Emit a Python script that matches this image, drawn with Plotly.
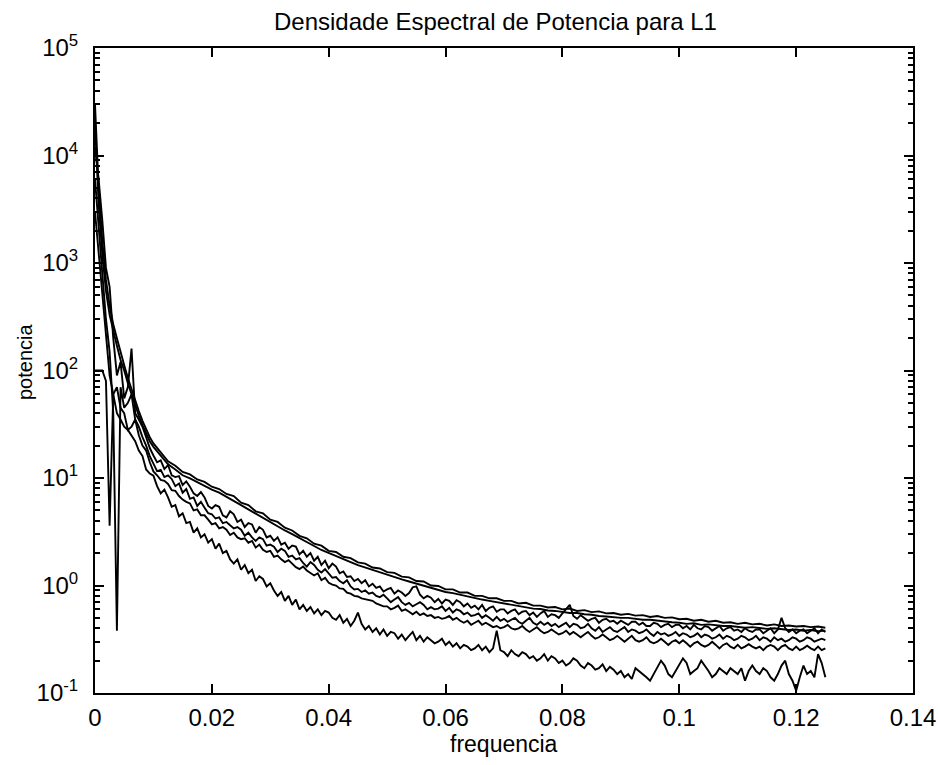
import plotly.graph_objects as go

# frequency grids
freq_smooth = [round(i * 0.000625, 6) for i in range(16)] + [round(0.01 + i * 0.00125, 6) for i in range(93)]
freq_noisy = [round(i * 0.000625, 6) for i in range(201)]

curve_a1 = [30000, 5000, 1600, 700, 400, 270, 200, 145, 112, 85, 66, 52, 42, 34, 28, 24,
            21, 17.3, 14.3, 13.0, 11.4, 10.8, 9.7, 9.2,
            8.3, 7.9, 7.1, 6.8, 5.9, 5.6, 4.9, 4.7,
            4.1, 3.9, 3.45, 3.25, 2.9, 2.75, 2.45, 2.35,
            2.1, 2.05, 1.85, 1.8, 1.64, 1.6, 1.47, 1.44,
            1.33, 1.31, 1.21, 1.19, 1.1, 1.09, 1.0, 0.99,
            0.92, 0.92, 0.86, 0.86, 0.8, 0.8, 0.76, 0.76,
            0.72, 0.72, 0.68, 0.69, 0.65, 0.65, 0.625, 0.63,
            0.6, 0.61, 0.58, 0.59, 0.565, 0.575, 0.55, 0.555,
            0.535, 0.545, 0.525, 0.53, 0.51, 0.52, 0.5, 0.505,
            0.485, 0.49, 0.47, 0.48, 0.46, 0.47, 0.45, 0.455,
            0.44, 0.45, 0.435, 0.44, 0.425, 0.435, 0.42, 0.425,
            0.415, 0.42, 0.41, 0.415, 0.405]

curve_a2 = [20000, 3500, 1200, 550, 330, 230, 170, 125, 100, 76, 60, 47, 38, 31, 26, 22,
            19.5, 16, 13.4, 12, 10.6, 9.9, 9.1, 8.4,
            7.8, 7.3, 6.7, 6.2, 5.6, 5.1, 4.65, 4.3,
            3.9, 3.55, 3.25, 3.0, 2.75, 2.5, 2.33, 2.14,
            2.0, 1.86, 1.75, 1.65, 1.55, 1.47, 1.4, 1.32,
            1.26, 1.2, 1.14, 1.09, 1.04, 1.0, 0.95, 0.91,
            0.87, 0.85, 0.82, 0.79, 0.76, 0.74, 0.72, 0.70,
            0.68, 0.66, 0.645, 0.625, 0.61, 0.605, 0.585, 0.58,
            0.57, 0.555, 0.555, 0.54, 0.535, 0.52, 0.515, 0.505,
            0.5, 0.5, 0.49, 0.48, 0.48, 0.47, 0.465, 0.455,
            0.45, 0.44, 0.445, 0.43, 0.435, 0.425, 0.42, 0.42,
            0.41, 0.405, 0.41, 0.40, 0.395, 0.4, 0.39, 0.385,
            0.39, 0.38, 0.385, 0.375, 0.38]

curve_b = [12000, 6000, 2500, 900, 600, 200, 90, 120, 55, 70, 160, 40, 35, 30, 24, 19,
           16.2, 14.0, 14.6, 12.1, 13.2, 10.6, 10.2, 10.4,
           8.6, 9.3, 8.3, 7.2, 6.8, 7.4, 6.6, 5.5,
           5.2, 5.6, 5.4, 4.5, 4.3, 4.9, 4.6, 3.9,
           4.1, 3.5, 3.8, 3.7, 3.1, 3.5, 3.3, 2.8,
           2.9, 2.6, 2.8, 2.4, 2.5, 2.2, 2.35, 2.3,
           1.95, 2.1, 1.85, 2.0, 1.7, 1.85, 1.55, 1.7,
           1.45, 1.6, 1.5, 1.3, 1.35, 1.2, 1.22, 1.1,
           1.15, 1.05, 1.12, 0.98, 1.04, 0.95, 0.98, 0.88,
           0.92, 0.95, 0.84, 0.9, 0.86, 0.8, 0.85, 0.96,
           0.98, 0.82, 0.76, 0.8, 0.77, 0.7, 0.75, 0.68,
           0.74, 0.72, 0.66, 0.73, 0.7, 0.64, 0.68, 0.62,
           0.65, 0.6, 0.66, 0.58, 0.62, 0.64, 0.57, 0.6,
           0.6, 0.55, 0.58, 0.6, 0.54, 0.57, 0.58, 0.53,
           0.56, 0.51, 0.55, 0.58, 0.51, 0.54, 0.53, 0.5,
           0.55, 0.6, 0.66, 0.52, 0.49, 0.53, 0.5, 0.47,
           0.49, 0.5, 0.45, 0.48, 0.49, 0.46, 0.47, 0.44,
           0.47, 0.45, 0.43, 0.46, 0.46, 0.43, 0.45, 0.42,
           0.42, 0.45, 0.44, 0.41, 0.43, 0.44, 0.41, 0.43,
           0.43, 0.4, 0.42, 0.39, 0.43, 0.4, 0.39, 0.42,
           0.41, 0.38, 0.4, 0.42, 0.38, 0.4, 0.41, 0.38,
           0.39, 0.37, 0.4, 0.38, 0.37, 0.39, 0.39, 0.36,
           0.38, 0.4, 0.36, 0.39, 0.5, 0.4, 0.37, 0.39,
           0.36, 0.38, 0.39, 0.36, 0.38, 0.4, 0.36, 0.39,
           0.37]

curve_c = [6000, 2000, 800, 300, 150, 40, 0.38, 70, 45, 50, 60, 35, 30, 24, 20, 16,
           13.5, 11.6, 11.9, 10.2, 10.6, 9.8, 8.4, 8.9,
           7.3, 7.9, 6.4, 6.6, 5.5, 6.0, 5.3, 4.7,
           4.6, 4.2, 4.3, 3.8, 3.9, 3.6, 3.4, 3.5,
           3.3, 2.9, 3.1, 2.8, 2.6, 2.8, 2.7, 2.35,
           2.4, 2.3, 2.05, 2.2, 2.1, 1.85, 1.9, 1.75,
           1.8, 1.62, 1.5, 1.65, 1.55, 1.4, 1.32, 1.42,
           1.3, 1.18, 1.2, 1.1, 1.05, 1.12, 0.98, 0.92,
           0.93, 0.87, 0.9, 0.84, 0.86, 0.8, 0.78, 0.82,
           0.76, 0.7, 0.74, 0.78, 0.7, 0.66, 0.69, 0.64,
           0.67, 0.7, 0.66, 0.6, 0.63, 0.6, 0.61, 0.64,
           0.58, 0.62, 0.56, 0.6, 0.58, 0.54, 0.56, 0.52,
           0.53, 0.55, 0.5, 0.53, 0.5, 0.47, 0.51, 0.47,
           0.49, 0.46, 0.48, 0.5, 0.46, 0.44, 0.47, 0.5,
           0.45, 0.43, 0.46, 0.43, 0.45, 0.42, 0.44, 0.41,
           0.43, 0.45, 0.41, 0.44, 0.43, 0.4, 0.41, 0.44,
           0.4, 0.38, 0.41, 0.37, 0.39, 0.41, 0.38, 0.37,
           0.39, 0.41, 0.37, 0.39, 0.38, 0.36, 0.37, 0.39,
           0.36, 0.34, 0.37, 0.35, 0.36, 0.34, 0.35, 0.37,
           0.34, 0.36, 0.35, 0.33, 0.34, 0.36, 0.33, 0.35,
           0.34, 0.32, 0.33, 0.35, 0.32, 0.34, 0.33, 0.31,
           0.32, 0.34, 0.33, 0.31, 0.32, 0.34, 0.31, 0.33,
           0.32, 0.3, 0.33, 0.31, 0.32, 0.3, 0.31, 0.33,
           0.32, 0.3, 0.31, 0.33, 0.32, 0.3, 0.31, 0.32,
           0.31]

curve_d = [100, 100, 100, 80, 3.6, 60, 70, 45, 40, 28, 30, 35, 25, 20, 18, 14,
           11.5, 10.6, 9.6, 9.4, 8.8, 7.7, 7.6, 6.8,
           6.3, 6.0, 5.8, 5.0, 5.1, 4.5, 4.5, 4.1,
           3.7, 3.8, 3.4, 3.5, 3.3, 2.95, 3.1, 2.8,
           2.7, 2.75, 2.5, 2.6, 2.25, 2.4, 2.15, 2.05,
           2.1, 1.85, 1.9, 1.75, 1.65, 1.72, 1.6, 1.48,
           1.42, 1.5, 1.38, 1.3, 1.24, 1.3, 1.12, 1.18,
           1.06, 1.02, 1.0, 0.94, 0.93, 0.86, 0.84, 0.8,
           0.79, 0.76, 0.75, 0.73, 0.72, 0.68, 0.66, 0.64,
           0.64, 0.6, 0.62, 0.65, 0.58, 0.6, 0.57, 0.54,
           0.57, 0.53, 0.55, 0.52, 0.53, 0.5, 0.51, 0.49,
           0.5, 0.52, 0.48, 0.5, 0.47, 0.45, 0.47, 0.43,
           0.45, 0.47, 0.43, 0.45, 0.43, 0.41, 0.42, 0.4,
           0.41, 0.43, 0.4, 0.39, 0.4, 0.42, 0.39, 0.37,
           0.39, 0.41, 0.38, 0.36, 0.37, 0.39, 0.37, 0.35,
           0.36, 0.38, 0.35, 0.37, 0.35, 0.33, 0.35, 0.37,
           0.34, 0.32, 0.33, 0.35, 0.33, 0.31, 0.32, 0.34,
           0.32, 0.3, 0.32, 0.34, 0.31, 0.3, 0.31, 0.33,
           0.3, 0.29, 0.3, 0.32, 0.3, 0.28, 0.3, 0.31,
           0.29, 0.31, 0.29, 0.27, 0.29, 0.3, 0.28, 0.27,
           0.28, 0.3, 0.28, 0.26, 0.28, 0.29, 0.27, 0.26,
           0.28, 0.26, 0.27, 0.285, 0.27, 0.26, 0.27, 0.25,
           0.27, 0.28, 0.27, 0.25, 0.27, 0.28, 0.26, 0.25,
           0.27, 0.25, 0.26, 0.275, 0.26, 0.25, 0.27, 0.25,
           0.26]

curve_e = [3000, 1200, 500, 200, 90, 60, 40, 35, 30, 28, 25, 22, 18, 16, 12, 11,
           10.5, 8.4, 7.2, 7.8, 6.6, 5.4, 5.6, 4.4,
           4.7, 3.8, 3.9, 3.1, 3.4, 2.8, 3.0, 2.5,
           2.7, 2.2, 2.45, 2.0, 2.1, 1.75, 1.6, 1.75,
           1.4, 1.55, 1.3, 1.4, 1.1, 1.22, 1.15, 0.98,
           1.05, 0.9, 0.8, 0.87, 0.72, 0.8, 0.66, 0.74,
           0.6, 0.66, 0.58, 0.63, 0.55, 0.6, 0.53, 0.58,
           0.56, 0.5, 0.48, 0.53, 0.45, 0.49, 0.42, 0.47,
           0.56, 0.44, 0.39, 0.42, 0.37, 0.4, 0.35, 0.39,
           0.34, 0.37, 0.36, 0.32, 0.35, 0.31, 0.34, 0.37,
           0.31, 0.34, 0.3, 0.33, 0.31, 0.29, 0.3, 0.32,
           0.28, 0.3, 0.27, 0.29, 0.26, 0.28, 0.27, 0.25,
           0.26, 0.28, 0.25, 0.27, 0.24, 0.26, 0.38, 0.25,
           0.24, 0.22, 0.25, 0.23, 0.22, 0.24, 0.23, 0.21,
           0.22, 0.2, 0.21, 0.23, 0.2, 0.22, 0.21, 0.19,
           0.2, 0.18, 0.19, 0.21, 0.2, 0.18, 0.17, 0.19,
           0.18, 0.165, 0.17, 0.185, 0.16, 0.175, 0.165, 0.15,
           0.16, 0.14, 0.15, 0.135, 0.17, 0.16, 0.15, 0.14,
           0.13, 0.15, 0.17, 0.2, 0.18, 0.15, 0.14, 0.16,
           0.18, 0.21, 0.19, 0.15, 0.16, 0.17, 0.2, 0.18,
           0.16, 0.14, 0.15, 0.17, 0.16, 0.15, 0.17, 0.16,
           0.15, 0.17, 0.13, 0.16, 0.18, 0.16, 0.15, 0.17,
           0.16, 0.14, 0.13, 0.15, 0.18, 0.2, 0.15, 0.13,
           0.105, 0.14, 0.18, 0.15, 0.16, 0.14, 0.23, 0.19,
           0.14]

x_tickvals = [0, 0.02, 0.04, 0.06, 0.08, 0.1, 0.12, 0.14]
x_ticktext = ["0", "0.02", "0.04", "0.06", "0.08", "0.1", "0.12", "0.14"]
y_tickvals = [1e-1, 1e0, 1e1, 1e2, 1e3, 1e4, 1e5]
y_ticktext = ["10<sup>-1</sup>", "10<sup>0</sup>", "10<sup>1</sup>", "10<sup>2</sup>",
              "10<sup>3</sup>", "10<sup>4</sup>", "10<sup>5</sup>"]

title_text = "Densidade Espectral de Potencia para L1"
xlabel_text = "frequencia"
ylabel_text = "potencia"

minor_vals = [m * 10.0 ** e for e in range(-1, 5) for m in range(2, 10)]

FONT = "Liberation Sans, Arial, sans-serif"

fig = go.Figure()
series = [(freq_smooth, curve_a1), (freq_smooth, curve_a2),
          (freq_noisy, curve_b), (freq_noisy, curve_c), (freq_noisy, curve_d), (freq_noisy, curve_e)]
for xs, ys in series:
    fig.add_trace(go.Scatter(x=xs, y=ys, mode="lines",
                             line=dict(color="black", width=1.9),
                             showlegend=False, hoverinfo="skip"))

fig.update_layout(
    width=940, height=765,
    margin=dict(l=95, r=27, t=48, b=72),
    paper_bgcolor="white", plot_bgcolor="white",
    font=dict(family=FONT, color="black", size=24),
    xaxis=dict(range=[0, 0.14], tickmode="array", tickvals=x_tickvals, ticktext=x_ticktext,
               ticks="inside", ticklen=9, tickwidth=2, tickcolor="black",
               showline=True, linewidth=2, linecolor="black", mirror="ticks",
               showgrid=False, zeroline=False, ticklabelstandoff=2, automargin=False,
               tickfont=dict(size=24, family=FONT)),
    yaxis=dict(type="log", range=[-1, 5], tickmode="array", tickvals=y_tickvals, ticktext=y_ticktext,
               ticks="inside", ticklen=9, tickwidth=2, tickcolor="black",
               showline=True, linewidth=2, linecolor="black", mirror="ticks",
               showgrid=False, zeroline=False, ticklabelstandoff=10, automargin=False,
               tickfont=dict(size=24, family=FONT),
               minor=dict(tickmode="array", tickvals=minor_vals, ticks="inside",
                          ticklen=5, tickwidth=1.5, tickcolor="black", showgrid=False)),
    annotations=[
        dict(text=title_text, xref="paper", yref="paper", x=0.49, y=1.0 + 27 / 645,
             xanchor="center", yanchor="middle", showarrow=False,
             font=dict(size=24, family=FONT, color="black")),
        dict(text=xlabel_text, xref="paper", yref="paper", x=0.5, y=-(51 / 645),
             xanchor="center", yanchor="middle", showarrow=False,
             font=dict(size=23, family=FONT, color="black")),
        dict(text=ylabel_text, xref="paper", yref="paper", x=-(70 / 818), y=(693 - 362) / 645,
             xanchor="center", yanchor="middle", showarrow=False, textangle=-90,
             font=dict(size=20, family=FONT, color="black")),
    ],
)

fig.write_html("out.html", config={"displayModeBar": False},
               post_script="document.body.style.margin='0px';")
